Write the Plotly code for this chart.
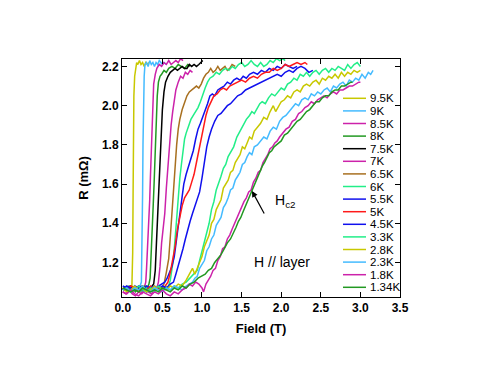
import plotly.graph_objects as go

names = ["9.5K", "9K", "8.5K", "8K", "7.5K", "7K", "6.5K", "6K", "5.5K", "5K",
         "4.5K", "3.3K", "2.8K", "2.3K", "1.8K", "1.34K"]
colors = ["#c8c800", "#44bbff", "#cc22aa", "#229922", "#000000", "#cc22aa",
          "#a87020", "#22ee88", "#1010ee", "#ff1a1a", "#1010ee", "#22ee88",
          "#c8c800", "#44bbff", "#cc22aa", "#229922"]

f_95 = [0.00,0.02,0.04,0.06,0.08,0.10,0.115,0.125,0.13,0.135,0.14,0.15,0.16,0.175,0.19,0.21,0.23,0.25,0.27,0.29,0.31,0.33]
r_95 = [1.07,1.06,1.08,1.06,1.07,1.06,1.08,1.25,1.55,1.85,2.05,2.15,2.19,2.22,2.21,2.23,2.21,2.22,2.20,2.22,2.21,2.22]

f_9 = [0.00,0.03,0.06,0.09,0.12,0.15,0.18,0.21,0.235,0.245,0.25,0.255,0.26,0.27,0.28,0.30,0.32,0.34,0.36,0.38,0.40,0.42,0.44,0.46,0.48,0.50,0.52,0.55]
r_9 = [1.06,1.07,1.05,1.07,1.06,1.08,1.06,1.07,1.10,1.30,1.55,1.80,2.00,2.15,2.21,2.22,2.20,2.23,2.21,2.22,2.20,2.22,2.21,2.23,2.22,2.21,2.22,2.21]

f_85 = [0.00,0.04,0.08,0.12,0.16,0.20,0.24,0.27,0.29,0.30,0.31,0.32,0.33,0.34,0.35,0.36,0.37,0.38,0.39,0.41,0.43,0.46,0.49,0.52,0.55,0.58,0.61,0.64,0.67,0.70,0.73,0.76]
r_85 = [1.05,1.04,1.06,1.05,1.07,1.06,1.05,1.07,1.10,1.17,1.25,1.33,1.42,1.52,1.65,1.80,1.95,2.05,2.11,2.16,2.19,2.21,2.20,2.22,2.21,2.23,2.21,2.22,2.23,2.22,2.24,2.23]

f_8 = [0.00,0.04,0.08,0.12,0.16,0.20,0.24,0.28,0.31,0.33,0.345,0.355,0.365,0.375,0.385,0.395,0.405,0.415,0.425,0.435,0.45,0.47,0.49,0.52,0.55,0.58,0.62,0.66,0.70,0.74,0.78,0.82,0.85]
r_8 = [1.07,1.06,1.08,1.07,1.05,1.07,1.06,1.08,1.07,1.09,1.12,1.20,1.30,1.40,1.50,1.60,1.72,1.84,1.95,2.05,2.12,2.15,2.16,2.18,2.17,2.19,2.20,2.19,2.21,2.20,2.19,2.21,2.20]

f_75 = [0.00,0.05,0.10,0.15,0.20,0.25,0.30,0.34,0.37,0.39,0.41,0.425,0.44,0.455,0.47,0.485,0.50,0.52,0.54,0.57,0.60,0.63,0.66,0.69,0.72,0.75,0.78,0.81,0.84,0.87,0.90,0.93,0.96,0.99,1.01]
r_75 = [1.07,1.06,1.08,1.06,1.07,1.08,1.06,1.07,1.08,1.09,1.16,1.30,1.45,1.60,1.73,1.86,1.98,2.07,2.12,2.15,2.17,2.18,2.19,2.18,2.19,2.20,2.19,2.19,2.21,2.20,2.21,2.20,2.21,2.22,2.23]

f_7 = [0.00,0.04,0.08,0.12,0.16,0.20,0.24,0.28,0.32,0.36,0.40,0.43,0.45,0.47,0.49,0.51,0.53,0.55,0.57,0.59,0.61,0.63,0.65,0.67,0.70,0.73,0.76,0.79,0.82,0.85,0.88]
r_7 = [1.05,1.04,1.06,1.04,1.03,1.05,1.04,1.06,1.05,1.04,1.06,1.07,1.10,1.18,1.30,1.37,1.45,1.58,1.70,1.79,1.90,1.97,2.04,2.08,2.12,2.15,2.14,2.17,2.16,2.18,2.17]

f_65 = [0.00,0.05,0.10,0.15,0.20,0.25,0.30,0.35,0.40,0.45,0.49,0.52,0.55,0.58,0.60,0.62,0.64,0.66,0.68,0.70,0.72,0.75,0.78,0.81,0.84,0.87,0.90,0.93,0.96,0.99,1.02,1.05,1.08,1.11,1.14,1.17,1.20,1.23,1.26,1.29,1.32,1.35,1.38,1.42]
r_65 = [1.06,1.07,1.05,1.07,1.06,1.08,1.06,1.07,1.06,1.08,1.07,1.09,1.15,1.22,1.33,1.45,1.58,1.70,1.80,1.88,1.93,1.98,2.02,2.05,2.07,2.08,2.09,2.10,2.09,2.11,2.14,2.16,2.17,2.19,2.17,2.18,2.20,2.18,2.19,2.20,2.18,2.19,2.21,2.20]

f_6 = [0.00,0.05,0.10,0.15,0.20,0.25,0.30,0.35,0.40,0.45,0.50,0.54,0.57,0.60,0.62,0.64,0.66,0.68,0.70,0.72,0.74,0.76,0.78,0.80,0.83,0.86,0.89,0.92,0.95,0.98,1.01,1.04,1.07,1.10,1.14,1.18,1.22,1.26,1.30,1.34,1.38,1.42,1.46,1.50,1.54,1.58,1.62,1.66,1.70,1.74,1.78,1.82,1.86,1.90,1.94,1.98,2.02,2.05]
r_6 = [1.07,1.06,1.05,1.07,1.06,1.05,1.07,1.06,1.05,1.07,1.06,1.08,1.07,1.11,1.17,1.22,1.32,1.43,1.53,1.63,1.70,1.78,1.83,1.86,1.90,1.93,1.95,1.97,1.99,2.02,2.06,2.09,2.12,2.14,2.15,2.17,2.16,2.18,2.19,2.18,2.20,2.19,2.21,2.22,2.20,2.21,2.23,2.21,2.20,2.22,2.20,2.21,2.23,2.22,2.24,2.23,2.24,2.23]

f_55 = [0.00,0.05,0.10,0.15,0.20,0.25,0.30,0.35,0.40,0.45,0.50,0.53,0.56,0.59,0.62,0.65,0.68,0.71,0.74,0.77,0.80,0.83,0.86,0.89,0.92,0.95,0.98,1.01,1.04,1.07,1.10,1.13,1.16,1.20,1.24,1.28,1.32,1.36,1.40,1.44,1.48,1.52,1.56,1.60,1.65,1.70,1.75,1.80,1.85,1.90,1.95,2.00,2.05,2.10,2.15,2.20]
r_55 = [1.08,1.07,1.06,1.08,1.07,1.06,1.08,1.07,1.06,1.08,1.09,1.10,1.12,1.15,1.18,1.23,1.32,1.43,1.52,1.60,1.65,1.69,1.72,1.77,1.83,1.88,1.91,1.94,1.97,2.01,2.05,2.06,2.05,2.08,2.09,2.10,2.12,2.11,2.13,2.14,2.13,2.15,2.14,2.16,2.17,2.16,2.18,2.17,2.19,2.18,2.20,2.19,2.21,2.20,2.19,2.20]

f_5 = [0.00,0.05,0.10,0.15,0.20,0.25,0.30,0.35,0.40,0.45,0.50,0.54,0.57,0.60,0.63,0.66,0.69,0.72,0.75,0.78,0.81,0.84,0.87,0.90,0.93,0.96,0.99,1.02,1.05,1.08,1.11,1.15,1.19,1.23,1.27,1.31,1.35,1.40,1.45,1.50,1.55,1.60,1.65,1.70,1.75,1.80,1.85,1.90,1.95,2.00,2.05,2.10,2.15,2.20,2.25,2.30,2.33]
r_5 = [1.07,1.06,1.08,1.07,1.05,1.07,1.06,1.08,1.06,1.07,1.06,1.08,1.10,1.15,1.21,1.28,1.37,1.44,1.49,1.53,1.55,1.57,1.61,1.65,1.71,1.77,1.84,1.90,1.95,1.99,2.02,2.05,2.06,2.08,2.09,2.08,2.10,2.11,2.12,2.13,2.12,2.14,2.15,2.14,2.16,2.17,2.17,2.19,2.18,2.19,2.21,2.20,2.21,2.22,2.21,2.22,2.21]

f_45 = [0.00,0.05,0.10,0.15,0.20,0.25,0.30,0.35,0.40,0.45,0.50,0.55,0.60,0.64,0.67,0.70,0.73,0.76,0.79,0.82,0.85,0.88,0.91,0.94,0.97,1.00,1.03,1.06,1.09,1.12,1.16,1.20,1.24,1.28,1.32,1.36,1.40,1.45,1.50,1.55,1.60,1.65,1.70,1.75,1.80,1.85,1.90,1.95,2.00,2.05,2.10,2.15,2.20,2.25,2.30,2.35,2.40]
r_45 = [1.06,1.08,1.07,1.06,1.08,1.07,1.05,1.07,1.08,1.06,1.08,1.07,1.09,1.10,1.14,1.18,1.23,1.27,1.32,1.37,1.41,1.45,1.49,1.52,1.56,1.63,1.72,1.79,1.84,1.88,1.92,1.95,1.96,1.98,2.00,2.01,2.03,2.05,2.06,2.08,2.09,2.10,2.11,2.12,2.13,2.14,2.15,2.16,2.15,2.17,2.18,2.17,2.19,2.20,2.19,2.17,2.18]

f_33 = [0.00,0.05,0.10,0.15,0.20,0.25,0.30,0.35,0.40,0.45,0.50,0.55,0.60,0.65,0.70,0.75,0.80,0.85,0.90,0.94,0.97,1.00,1.03,1.06,1.09,1.12,1.15,1.18,1.21,1.24,1.27,1.30,1.33,1.36,1.40,1.44,1.48,
        1.52,1.56,1.60,1.63,1.66,1.70,1.73,1.76,1.80,1.84,1.88,1.92,1.96,2.00,2.04,2.08,2.12,2.16,2.20,2.24,2.28,2.32,2.36,2.40,2.44,2.48,2.52,2.56,2.60,2.64,2.68,2.72,2.76,2.80,2.84,2.88,2.92,2.96,3.00]
r_33 = [1.06,1.07,1.05,1.06,1.08,1.06,1.05,1.07,1.06,1.08,1.06,1.07,1.06,1.08,1.07,1.09,1.10,1.12,1.14,1.16,1.21,1.26,1.30,1.36,1.40,1.47,1.51,1.57,1.60,1.64,1.68,1.70,1.74,1.76,1.79,1.84,1.87,
        1.90,1.93,1.95,1.97,1.96,1.99,2.01,2.02,2.01,2.04,2.06,2.05,2.07,2.09,2.08,2.11,2.12,2.14,2.13,2.16,2.15,2.17,2.15,2.17,2.18,2.16,2.18,2.19,2.17,2.19,2.18,2.20,2.19,2.18,2.21,2.19,2.21,2.22,2.20]

f_28 = [0.00,0.05,0.10,0.15,0.20,0.25,0.30,0.35,0.40,0.45,0.50,0.55,0.60,0.65,0.70,0.75,
        0.80,0.83,0.86,0.88,0.91,0.94,0.97,1.00,1.03,1.06,1.09,1.12,1.15,1.18,1.21,1.24,1.27,1.30,1.33,1.36,1.39,1.42,1.45,1.48,1.51,1.54,1.57,1.60,1.63,1.66,1.70,1.74,1.78,1.82,1.86,1.90,1.93,1.96,
        2.00,2.04,2.08,2.12,2.16,2.20,2.24,2.28,2.32,2.36,2.40,2.44,2.48,2.52,2.56,2.60,2.64,2.68,2.72,2.76,2.80,2.84,2.88,2.92,2.96,3.00]
r_28 = [1.07,1.05,1.06,1.08,1.06,1.07,1.05,1.06,1.08,1.06,1.07,1.06,1.08,1.07,1.09,1.08,
        1.11,1.13,1.15,1.17,1.14,1.17,1.21,1.23,1.28,1.31,1.34,1.40,1.42,1.47,1.50,1.52,1.58,1.60,1.62,1.66,1.67,1.71,1.73,1.75,1.79,1.78,1.81,1.84,1.83,1.87,1.89,1.91,1.94,1.93,1.97,2.00,1.97,1.99,
        2.02,2.03,2.05,2.04,2.07,2.08,2.07,2.10,2.11,2.10,2.12,2.13,2.11,2.14,2.13,2.15,2.14,2.16,2.14,2.17,2.15,2.17,2.16,2.18,2.17,2.18]

f_23 = [0.00,0.05,0.10,0.15,0.20,0.25,0.30,0.35,0.40,0.45,0.50,0.55,0.60,0.65,0.70,0.75,0.80,
        0.85,0.88,0.91,0.94,0.97,1.00,1.03,1.06,1.09,1.12,1.15,1.18,1.21,1.24,1.27,1.30,1.33,1.36,1.39,1.42,1.45,1.48,1.51,1.54,1.57,1.60,1.63,1.66,1.70,1.74,1.78,1.82,1.86,1.90,1.94,1.98,
        2.02,2.06,2.10,2.14,2.18,2.22,2.26,2.30,2.34,2.38,2.42,2.46,2.50,2.54,2.58,2.62,2.66,2.70,2.74,2.78,2.82,2.86,2.90,2.94,2.98,3.02,3.06,3.10,3.13,3.16]
r_23 = [1.06,1.07,1.05,1.07,1.06,1.08,1.06,1.05,1.07,1.06,1.05,1.07,1.06,1.08,1.07,1.06,1.08,
        1.09,1.10,1.12,1.13,1.17,1.19,1.21,1.26,1.28,1.32,1.34,1.39,1.41,1.43,1.48,1.50,1.53,1.57,1.58,1.62,1.64,1.66,1.70,1.71,1.74,1.76,1.75,1.79,1.80,1.82,1.84,1.83,1.87,1.89,1.88,1.92,
        1.94,1.95,1.97,1.99,2.01,2.00,2.03,2.04,2.03,2.06,2.05,2.07,2.06,2.08,2.09,2.07,2.10,2.09,2.11,2.12,2.10,2.13,2.12,2.14,2.13,2.16,2.14,2.17,2.16,2.18]

f_18 = [0.00,0.05,0.10,0.15,0.20,0.25,0.30,0.35,0.40,0.45,0.50,0.55,0.60,0.65,0.70,0.75,
        0.80,0.84,0.88,0.92,0.96,1.00,1.02,1.05,1.08,1.11,1.14,1.17,1.20,1.23,1.26,1.29,1.32,1.35,1.38,1.41,1.44,1.47,1.50,1.53,1.56,1.59,1.62,1.65,1.68,1.71,1.74,1.77,1.80,1.83,1.86,1.89,1.92,1.95,1.98,
        2.02,2.06,2.10,2.14,2.18,2.22,2.26,2.30,2.34,2.38,2.42,2.46,2.50,2.54,2.58,2.62,2.66,2.70,2.74,2.78,2.82,2.86,2.90,2.94,2.98,3.00]
r_18 = [1.05,1.04,1.06,1.04,1.03,1.05,1.04,1.03,1.05,1.04,1.06,1.04,1.03,1.05,1.04,1.06,
        1.07,1.09,1.08,1.10,1.09,1.07,1.05,1.09,1.11,1.13,1.16,1.17,1.21,1.23,1.27,1.28,1.32,1.34,1.37,1.40,1.42,1.46,1.48,1.51,1.53,1.56,1.57,1.61,1.63,1.66,1.67,1.71,1.73,1.75,1.78,1.79,1.81,1.82,1.84,
        1.86,1.88,1.89,1.92,1.93,1.96,1.97,1.99,2.00,2.02,2.01,2.03,2.04,2.05,2.04,2.06,2.07,2.06,2.08,2.08,2.09,2.10,2.10,2.11,2.12,2.12]

f_134 = [0.00,0.05,0.10,0.15,0.20,0.25,0.30,0.35,0.40,0.45,0.50,0.55,0.60,0.65,0.70,0.75,
         0.80,0.85,0.90,0.95,1.00,1.04,1.08,1.12,1.16,1.20,1.24,1.28,1.32,1.36,1.40,1.43,1.46,1.49,1.52,1.55,1.58,1.61,1.64,1.67,1.70,1.73,1.76,1.79,1.82,1.85,1.88,1.91,1.94,1.97,
         2.00,2.04,2.08,2.12,2.16,2.20,2.24,2.28,2.32,2.36,2.40,2.44,2.48,2.52,2.56,2.60,2.64,2.68,2.72,2.76,2.80,2.84,2.88,2.90]
r_134 = [1.07,1.06,1.05,1.06,1.05,1.07,1.06,1.05,1.06,1.05,1.07,1.06,1.05,1.07,1.06,1.08,
         1.07,1.09,1.10,1.12,1.13,1.14,1.16,1.17,1.20,1.22,1.24,1.27,1.30,1.32,1.35,1.38,1.41,1.43,1.46,1.49,1.52,1.55,1.57,1.61,1.63,1.67,1.69,1.71,1.74,1.76,1.77,1.79,1.80,1.81,
         1.82,1.85,1.86,1.88,1.90,1.92,1.93,1.95,1.97,1.98,2.00,2.02,2.02,2.04,2.05,2.05,2.07,2.08,2.08,2.10,2.10,2.11,2.12,2.12]

fields = [f_95, f_9, f_85, f_8, f_75, f_7, f_65, f_6, f_55, f_5, f_45, f_33, f_28, f_23, f_18, f_134]
resist = [r_95, r_9, r_85, r_8, r_75, r_7, r_65, r_6, r_55, r_5, r_45, r_33, r_28, r_23, r_18, r_134]

x_ticks = [0.0, 0.5, 1.0, 1.5, 2.0, 2.5, 3.0, 3.5]
y_ticks = [1.2, 1.4, 1.6, 1.8, 2.0, 2.2]

FONT = "Liberation Sans, Arial, Helvetica, sans-serif"
X_RANGE = [-0.01, 3.5]
Y_RANGE = [1.024, 2.238]

fig = go.Figure()
for f, r, n, c in zip(fields, resist, names, colors):
    fig.add_trace(go.Scatter(x=f, y=r, mode="lines", name=n,
                             line=dict(color=c, width=1.5), showlegend=False))

# page body has an 8px offset; plot area targeted at page x 122..400, y 59..297
OFF = 8
L, T, W, H = 122 - OFF, 59 - OFF, 278, 238


def px_to_data(xp, yp):
    fx = X_RANGE[0] + (xp - 122) / W * (X_RANGE[1] - X_RANGE[0])
    fy = Y_RANGE[1] - (yp - 59) / H * (Y_RANGE[1] - Y_RANGE[0])
    return fx, fy


shapes = []
annotations = []
for i, (n, c) in enumerate(zip(names, colors)):
    ypx = 98.3 + 12.6 * i
    yp = (59 + H - ypx) / H
    shapes.append(dict(type="line", xref="paper", yref="paper",
                       x0=(343 - 122) / W, x1=(366 - 122) / W, y0=yp, y1=yp,
                       line=dict(color=c, width=1.5)))
    annotations.append(dict(xref="paper", yref="paper", x=(368 - 122) / W, y=yp,
                            text=n, showarrow=False, xanchor="left", yanchor="middle",
                            font=dict(family=FONT, size=11.5, color="#000")))

hx, hy = px_to_data(252, 191)
tx, ty = px_to_data(265, 215)
annotations.append(dict(x=hx, y=hy, ax=tx, ay=ty, xref="x", yref="y",
                        axref="x", ayref="y", text="", showarrow=True,
                        arrowhead=2, arrowsize=1, arrowwidth=1.2, arrowcolor="#000"))
cx, cy = px_to_data(285, 201)
annotations.append(dict(x=cx, y=cy, xref="x", yref="y", text="H<sub>c2</sub>",
                        showarrow=False, font=dict(family=FONT, size=14, color="#000")))
lx, ly = px_to_data(281.5, 262)
annotations.append(dict(x=lx, y=ly, xref="x", yref="y", text="H // layer",
                        showarrow=False, font=dict(family=FONT, size=14, color="#000")))

axis_common = dict(showline=True, linecolor="#000", linewidth=1, mirror="ticks",
                   ticks="inside", ticklen=5, tickwidth=1, tickcolor="#000",
                   showgrid=False, zeroline=False,
                   tickfont=dict(family=FONT, size=12, color="#000", weight="bold"))

fig.update_layout(
    width=495, height=383,
    margin=dict(l=L, r=495 - L - W, t=T, b=383 - T - H),
    paper_bgcolor="white", plot_bgcolor="white",
    showlegend=False,
    shapes=shapes, annotations=annotations,
    xaxis=dict(range=X_RANGE, tickvals=x_ticks, tickformat=".1f",
               title=dict(text="Field (T)", standoff=9,
                          font=dict(family=FONT, size=13, color="#000", weight="bold")),
               **axis_common),
    yaxis=dict(range=Y_RANGE, tickvals=y_ticks, tickformat=".1f",
               title=dict(text="R (mΩ)", standoff=10,
                          font=dict(family=FONT, size=13, color="#000", weight="bold")),
               **axis_common),
)

fig.write_html("out.html")
